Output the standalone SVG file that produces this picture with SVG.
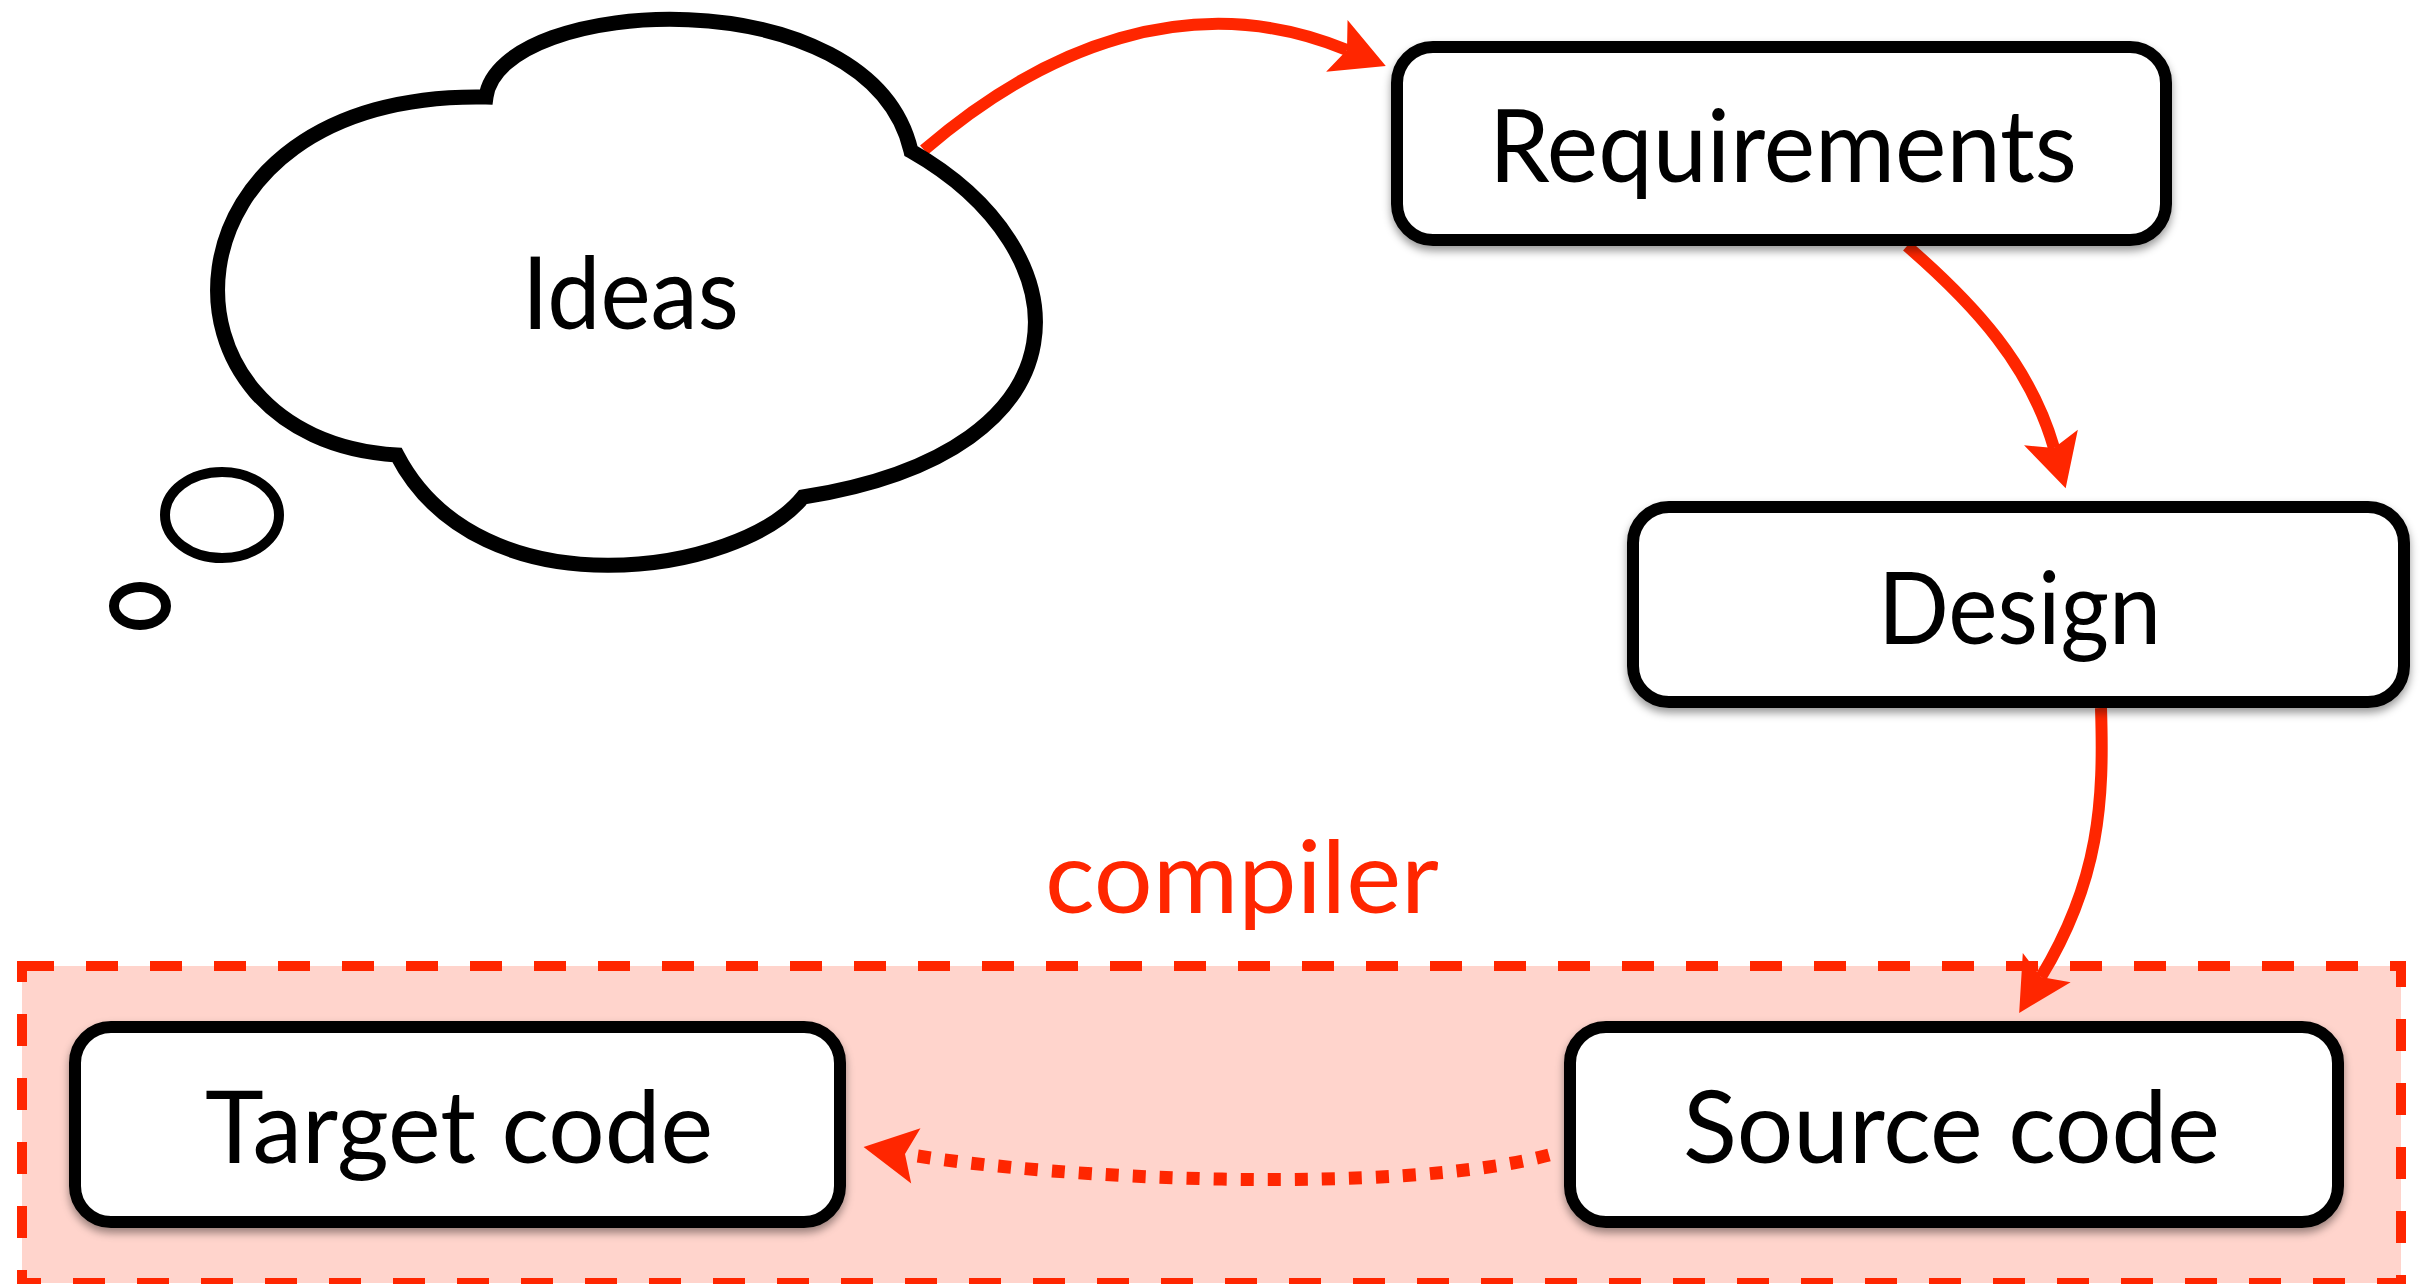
<svg xmlns="http://www.w3.org/2000/svg" width="2421" height="1284" viewBox="0 0 2421 1284">
  <style>
    .box { fill: #ffffff; stroke: #000000; stroke-width: 12; filter: url(#shadow); }
    .label { font-family: "Lato", "Open Sans", "Liberation Sans", sans-serif; font-size: 100px; fill: #000000; }
    .red { fill: #ff2600; }
    .conn { fill: none; stroke: #ff2600; stroke-width: 12; marker-end: url(#ah); }
    .dotted { stroke-width: 13; stroke-dasharray: 13 14; }
    .cloud { fill: #ffffff; stroke: #000000; stroke-width: 15; stroke-linejoin: miter; }
    .bubble { fill: #ffffff; stroke: #000000; stroke-width: 10; }
  </style>
  <defs>
    <filter id="shadow" x="-10%" y="-10%" width="120%" height="130%">
      <feDropShadow dx="0" dy="5" stdDeviation="4" flood-color="#000000" flood-opacity="0.4"/>
    </filter>
    <marker id="ah" markerUnits="userSpaceOnUse" viewBox="-60 -30 64 60" refX="-42" refY="0" markerWidth="64" markerHeight="60" orient="auto" overflow="visible">
      <path d="M0,0 L-53,-28 L-42,0 L-53,28 Z" fill="#ff2600"/>
    </marker>
  </defs>

  <rect width="2421" height="1284" fill="#ffffff"/>

  <g id="compiler">
    <rect x="22" y="966" width="2379" height="317" fill="#ffd4cc" stroke="#ff2600" stroke-width="10" stroke-dasharray="32 32"/>
    <text class="label red" x="1045" y="913" textLength="394" lengthAdjust="spacingAndGlyphs">compiler</text>
  </g>

  <g id="connectors">
    <path id="ideas-to-requirements" class="conn" d="M 924 150 C 1040 50, 1190 -15, 1347 50"/>
    <path id="requirements-to-design" class="conn" d="M 1907 246 C 1975 305, 2030 365, 2054 448"/>
    <path id="design-to-source" class="conn" d="M 2101 708 C 2104 800, 2100 880, 2041 977"/>
    <path id="source-to-target" class="conn dotted" d="M 1549 1155 C 1400 1195, 1060 1180, 905 1154"/>
  </g>

  <g id="ideas">
    <path class="cloud" d="M 486 97 C 500 -5, 870 -25, 911 151 C 1085 250, 1100 450, 803 497 C 740 575, 480 615, 397 455 C 140 440, 150 90, 486 97 Z"/>
    <ellipse class="bubble" cx="222" cy="515" rx="57" ry="43"/>
    <ellipse class="bubble" cx="140" cy="606" rx="26" ry="19"/>
    <text class="label" x="522" y="329" textLength="217" lengthAdjust="spacingAndGlyphs">Ideas</text>
  </g>

  <g id="requirements">
    <rect class="box" x="1397" y="47" width="769" height="193" rx="36" ry="36"/>
    <text class="label" x="1489" y="182" textLength="588" lengthAdjust="spacingAndGlyphs">Requirements</text>
  </g>

  <g id="design">
    <rect class="box" x="1633" y="507" width="771" height="195" rx="36" ry="36"/>
    <text class="label" x="1878" y="644" textLength="283" lengthAdjust="spacingAndGlyphs">Design</text>
  </g>

  <g id="source-code">
    <rect class="box" x="1570" y="1027" width="768" height="195" rx="36" ry="36"/>
    <text class="label" x="1683" y="1163" textLength="537" lengthAdjust="spacingAndGlyphs">Source code</text>
  </g>

  <g id="target-code">
    <rect class="box" x="75" y="1027" width="765" height="195" rx="36" ry="36"/>
    <text class="label" x="205" y="1163" textLength="508" lengthAdjust="spacingAndGlyphs">Target code</text>
  </g>
</svg>
